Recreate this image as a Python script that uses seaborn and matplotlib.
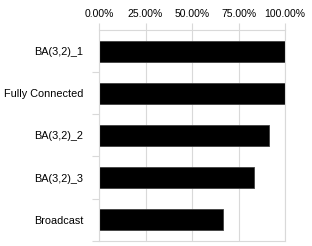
import numpy as np
import pandas as pd
import seaborn as sns
import matplotlib.pyplot as plt
from matplotlib.ticker import PercentFormatter, FixedLocator

categories = ['BA(3,2)_1', 'Fully Connected', 'BA(3,2)_2', 'BA(3,2)_3', 'Broadcast']
values = [1.00, 1.00, 0.916, 0.833, 0.668]
x_ticks = [0, 0.25, 0.5, 0.75, 1.0]

sns.set_style('white')
plt.rcParams['font.family'] = ['Liberation Sans', 'DejaVu Sans']

df = pd.DataFrame({'name': categories, 'value': values})

fig = plt.figure(figsize=(3.12, 2.46), dpi=100)
ax = fig.add_axes([0.3173, 0.0215, 0.5962, 0.8565])

sns.barplot(data=df, x='value', y='name', orient='h', color='black',
            width=0.5, edgecolor='#404040', linewidth=0.6, saturation=1, ax=ax)

grid_c = '#d9d9d9'
ax.set_xlim(0, 1)
ax.set_ylim(4.5, -0.5)
ax.xaxis.tick_top()
ax.set_xticks(x_ticks)
ax.xaxis.set_major_formatter(PercentFormatter(1.0, decimals=2))
ax.grid(axis='x', color=grid_c, linewidth=0.8)
ax.set_axisbelow(True)
ax.set_xlabel('')
ax.set_ylabel('')

ax.tick_params(axis='x', which='major', top=True, length=5, color=grid_c,
               labelsize=7.5, pad=3, labelcolor='black')
ax.tick_params(axis='y', which='major', left=False, labelsize=7.8, pad=8,
               labelcolor='black')
ax.yaxis.set_minor_locator(FixedLocator([0.5, 1.5, 2.5, 3.5, 4.5]))
ax.tick_params(axis='y', which='minor', left=True, length=5, color=grid_c, width=0.8)

for s in ax.spines.values():
    s.set_color(grid_c)
    s.set_linewidth(0.8)

plt.savefig('out.png', dpi=100)
